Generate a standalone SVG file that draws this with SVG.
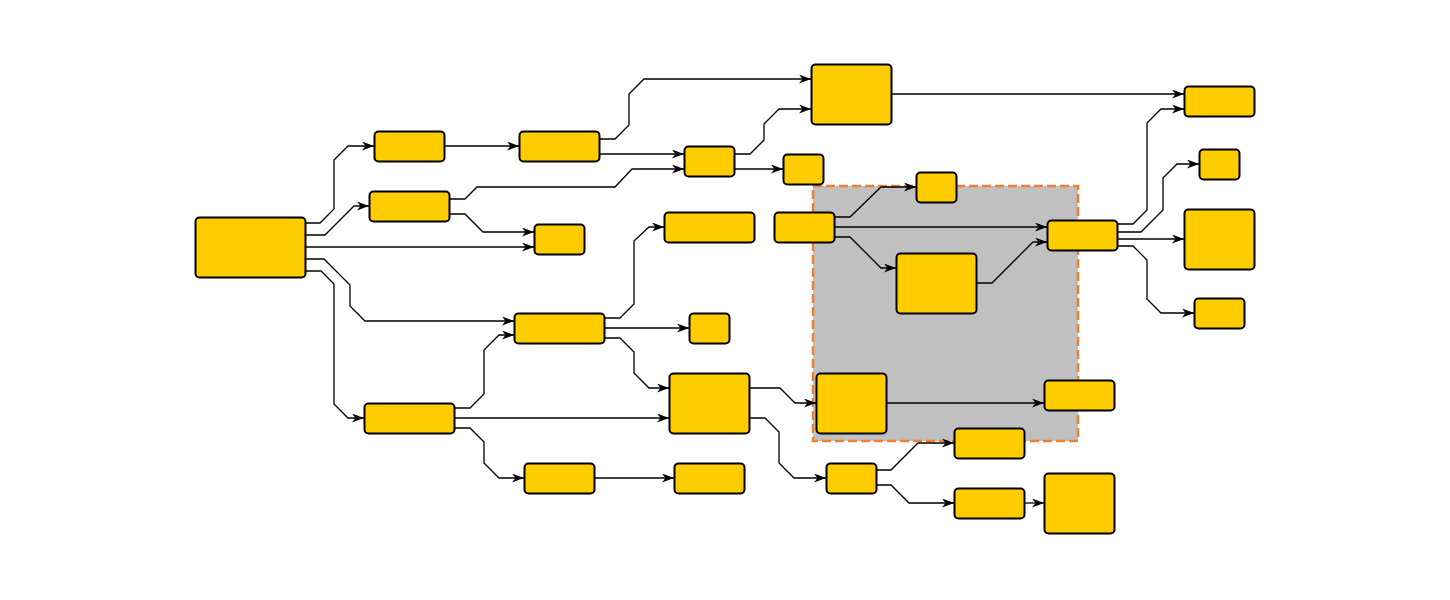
<svg xmlns="http://www.w3.org/2000/svg" width="1450" height="600" viewBox="0 0 1450 600">
<defs>
<marker id="arr" viewBox="0 0 12 9" refX="12" refY="4.5" markerWidth="12" markerHeight="9" markerUnits="userSpaceOnUse" orient="auto">
<path d="M0,0 L12,4.5 L0,9 L3.5,4.5 z" fill="#000"/>
</marker>
</defs>
<style>
.n rect{fill:#ffcc00;stroke:#000;stroke-width:2;}
.e path{fill:none;stroke:#000;stroke-width:1.3;marker-end:url(#arr);}
.grp{fill:#c0c0c0;stroke:#f08030;stroke-width:2.5;stroke-dasharray:9 4;}
</style>
<rect width="1450" height="600" fill="#fff"/>
<rect id="group" class="grp" x="813" y="186" width="265" height="255"/>
<g id="connectors" class="e">
<path d="M305,223 L320,223 L334,209 L334,160 L348,146 L374,146"/>
<path d="M305,235 L325,235 L354,206 L369,206"/>
<path d="M305,247 L534,247"/>
<path d="M305,259 L324,259 L350,285 L350,306 L365,321 L514,321"/>
<path d="M305,271 L321,271 L334,284 L334,404 L348,418 L364,418"/>
<path d="M444,146 L519,146"/>
<path d="M599,139 L615,139 L629,125 L629,94 L644,79 L811,79"/>
<path d="M599,154 L684,154"/>
<path d="M449,199 L465,199 L477,187 L615,187 L632,169 L684,169"/>
<path d="M449,214 L465,214 L483,232 L534,232"/>
<path d="M734,154 L750,154 L764,140 L764,124 L779,109 L811,109"/>
<path d="M734,169 L783,169"/>
<path d="M891,94 L1184,94"/>
<path d="M834,217 L850,217 L881,187 L916,187"/>
<path d="M834,227 L1047,227"/>
<path d="M834,237 L850,237 L881,268 L896,268"/>
<path d="M976,283 L992,283 L1033,242 L1047,242"/>
<path d="M1117,224 L1133,224 L1147,210 L1147,123 L1161,109 L1184,109"/>
<path d="M1117,232 L1141,232 L1163,210 L1163,178 L1177,164 L1199,164"/>
<path d="M1117,239 L1184,239"/>
<path d="M1117,246 L1133,246 L1147,260 L1147,299 L1161,313 L1194,313"/>
<path d="M454,408 L470,408 L484,394 L484,350 L499,335 L514,335"/>
<path d="M454,418 L669,418"/>
<path d="M454,428 L470,428 L484,442 L484,463 L499,478 L524,478"/>
<path d="M594,478 L674,478"/>
<path d="M604,318 L620,318 L634,304 L634,241 L649,227 L664,227"/>
<path d="M604,328 L689,328"/>
<path d="M604,338 L620,338 L634,352 L634,373 L649,388 L669,388"/>
<path d="M749,388 L780,388 L795,403 L816,403"/>
<path d="M749,418 L765,418 L779,432 L779,463 L794,478 L826,478"/>
<path d="M886,403 L1044,403"/>
<path d="M876,470 L891,470 L918,443 L954,443"/>
<path d="M876,485 L891,485 L909,503 L954,503"/>
<path d="M1024,503 L1044,503"/>
</g>
<g id="n1" class="n"><rect x="195.5" y="217.5" width="110" height="60" rx="4"/></g>
<g id="n2" class="n"><rect x="374.5" y="131.5" width="70" height="30" rx="4"/></g>
<g id="n3" class="n"><rect x="369.5" y="191.5" width="80" height="30" rx="4"/></g>
<g id="n4" class="n"><rect x="534.5" y="224.5" width="50" height="30" rx="4"/></g>
<g id="n5" class="n"><rect x="519.5" y="131.5" width="80" height="30" rx="4"/></g>
<g id="n6" class="n"><rect x="684.5" y="146.5" width="50" height="30" rx="4"/></g>
<g id="n7" class="n"><rect x="811.5" y="64.5" width="80" height="60" rx="4"/></g>
<g id="n8" class="n"><rect x="783.5" y="154.5" width="40" height="30" rx="4"/></g>
<g id="n9" class="n"><rect x="664.5" y="212.5" width="90" height="30" rx="4"/></g>
<g id="n10" class="n"><rect x="774.5" y="212.5" width="60" height="30" rx="4"/></g>
<g id="n11" class="n"><rect x="916.5" y="172.5" width="40" height="30" rx="4"/></g>
<g id="n12" class="n"><rect x="896.5" y="253.5" width="80" height="60" rx="4"/></g>
<g id="n13" class="n"><rect x="1047.5" y="220.5" width="70" height="30" rx="4"/></g>
<g id="n14" class="n"><rect x="1184.5" y="86.5" width="70" height="30" rx="4"/></g>
<g id="n15" class="n"><rect x="1199.5" y="149.5" width="40" height="30" rx="4"/></g>
<g id="n16" class="n"><rect x="1184.5" y="209.5" width="70" height="60" rx="4"/></g>
<g id="n17" class="n"><rect x="1194.5" y="298.5" width="50" height="30" rx="4"/></g>
<g id="n18" class="n"><rect x="514.5" y="313.5" width="90" height="30" rx="4"/></g>
<g id="n19" class="n"><rect x="689.5" y="313.5" width="40" height="30" rx="4"/></g>
<g id="n20" class="n"><rect x="364.5" y="403.5" width="90" height="30" rx="4"/></g>
<g id="n21" class="n"><rect x="669.5" y="373.5" width="80" height="60" rx="4"/></g>
<g id="n22" class="n"><rect x="524.5" y="463.5" width="70" height="30" rx="4"/></g>
<g id="n23" class="n"><rect x="674.5" y="463.5" width="70" height="30" rx="4"/></g>
<g id="n24" class="n"><rect x="816.5" y="373.5" width="70" height="60" rx="4"/></g>
<g id="n25" class="n"><rect x="1044.5" y="380.5" width="70" height="30" rx="4"/></g>
<g id="n26" class="n"><rect x="954.5" y="428.5" width="70" height="30" rx="4"/></g>
<g id="n27" class="n"><rect x="826.5" y="463.5" width="50" height="30" rx="4"/></g>
<g id="n28" class="n"><rect x="954.5" y="488.5" width="70" height="30" rx="4"/></g>
<g id="n29" class="n"><rect x="1044.5" y="473.5" width="70" height="60" rx="4"/></g>
</svg>
